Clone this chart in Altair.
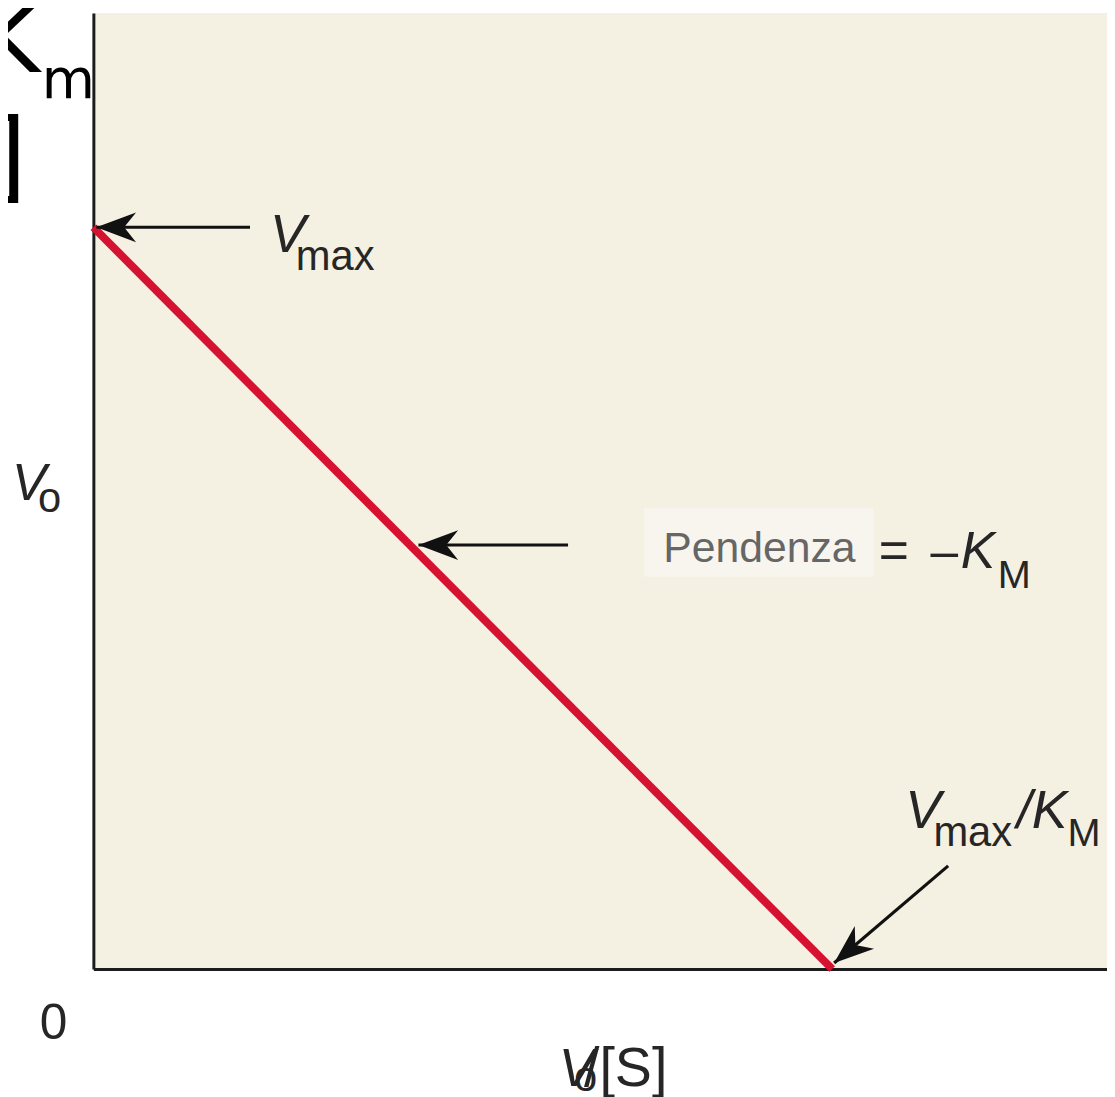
import altair as alt
import pandas as pd

# Eadie-Hofstee plot: v0 versus v0/[S]
line_x = [0.0, 1.0]      # v0/[S]: 0 and Vmax/KM
line_y = [1.0, 0.0]      # v0: Vmax and 0

X_DOMAIN = [0, 1.372]
Y_DOMAIN = [0, 1.289]

# annotation arrows (tail -> tip)
arrow_x1 = [0.212, 0.6425, 1.157]
arrow_y1 = [1.0, 0.5716, 0.139]
arrow_x2 = [0.004, 0.44, 1.0027]
arrow_y2 = [1.0, 0.5716, 0.008]
arrow_angle = [180, 180, 139.6]

# light box behind "Pendenza"
box_x = [0.745]
box_x2 = [1.056]
box_y = [0.529]
box_y2 = [0.622]

# text labels
reg_text = ["max", "=", "–", "M", "max", "M", "o", "0", "/[S]", "o"]
reg_x = [0.274, 1.063, 1.133, 1.224, 1.137, 1.3185, -0.075, -0.0726, 0.664, 0.6505]
reg_y = [0.942, 0.541, 0.541, 0.514, 0.166, 0.166, 0.616, -0.095, -0.158, -0.165]
reg_size = [42, 52, 50, 40, 42, 40, 42, 50, 56, 42]

ital_text = ["V", "K", "V", "/K", "V", "V"]
ital_x = [0.239, 1.174, 1.099, 1.250, -0.110, 0.630]
ital_y = [0.9665, 0.541, 0.190, 0.190, 0.632, -0.158]
ital_size = [54, 52, 54, 54, 52, 54]

gray_text = ["Pendenza"]
gray_x = [0.7715]
gray_y = [0.549]
gray_size = [43]

hand_text = ["K", "m", "]"]
hand_x = [-0.156, -0.070, -0.1425]
hand_y = [1.210, 1.174, 1.0509]
hand_size = [95, 55, 100]

xs = alt.Scale(domain=X_DOMAIN, nice=False, zero=False)
ys = alt.Scale(domain=Y_DOMAIN, nice=False, zero=False)
ax = alt.Axis(domain=True, domainColor="#1c1c1c", domainWidth=3, ticks=False,
              labels=False, grid=False, title="")


def X(f):
    return alt.X(f + ":Q", scale=xs, axis=ax)


def Y(f):
    return alt.Y(f + ":Q", scale=ys, axis=ax)


line_df = pd.DataFrame({"x": line_x, "y": line_y})
arrow_df = pd.DataFrame({"x": arrow_x1, "y": arrow_y1, "x2": arrow_x2,
                         "y2": arrow_y2, "angle": arrow_angle})
box_df = pd.DataFrame({"x": box_x, "x2": box_x2, "y": box_y, "y2": box_y2})

box = alt.Chart(box_df).mark_rect(color="#F8F5EE").encode(
    x=X("x"), x2="x2", y=Y("y"), y2="y2")

line = alt.Chart(line_df).mark_line(color="#D5122F", strokeWidth=8,
                                    strokeCap="butt").encode(x=X("x"), y=Y("y"))

shafts = alt.Chart(arrow_df).mark_rule(color="#111111", strokeWidth=3.2).encode(
    x=X("x"), y=Y("y"), x2="x2", y2="y2")

heads = alt.Chart(arrow_df).mark_point(
    shape="M0,0 L-2,-0.75 L-1.4,0 L-2,0.75 Z", filled=True, color="#111111",
    opacity=1, size=1600, strokeWidth=0).encode(
    x=X("x2"), y=Y("y2"), angle=alt.Angle("angle:Q", scale=None))


def text_layer(texts, xv, yv, sv, color, font, style="normal", weight="normal"):
    df = pd.DataFrame({"t": texts, "x": xv, "y": yv, "s": sv})
    return alt.Chart(df).mark_text(
        align="left", baseline="alphabetic", font=font, fontStyle=style,
        fontWeight=weight, color=color).encode(
        x=X("x"), y=Y("y"), text="t:N", size=alt.Size("s:Q", scale=None))


reg = text_layer(reg_text, reg_x, reg_y, reg_size, "#262626", "Liberation Sans")
ital = text_layer(ital_text, ital_x, ital_y, ital_size, "#262626",
                  "Liberation Sans", style="italic")
gray = text_layer(gray_text, gray_x, gray_y, gray_size, "#666666", "Liberation Sans")
hand = text_layer(hand_text, hand_x, hand_y, hand_size, "#000000", "DejaVu Sans")

chart = alt.layer(box, line, shafts, heads, reg, ital, gray, hand).properties(
    width=1021, height=963, autosize="none",
    padding={"left": 86, "top": 1, "right": 0, "bottom": 125},
    background="white",
).configure_view(fill="#F4F0E2", stroke=None)

chart.save("out.html", embed_options={"renderer": "svg", "actions": False})
